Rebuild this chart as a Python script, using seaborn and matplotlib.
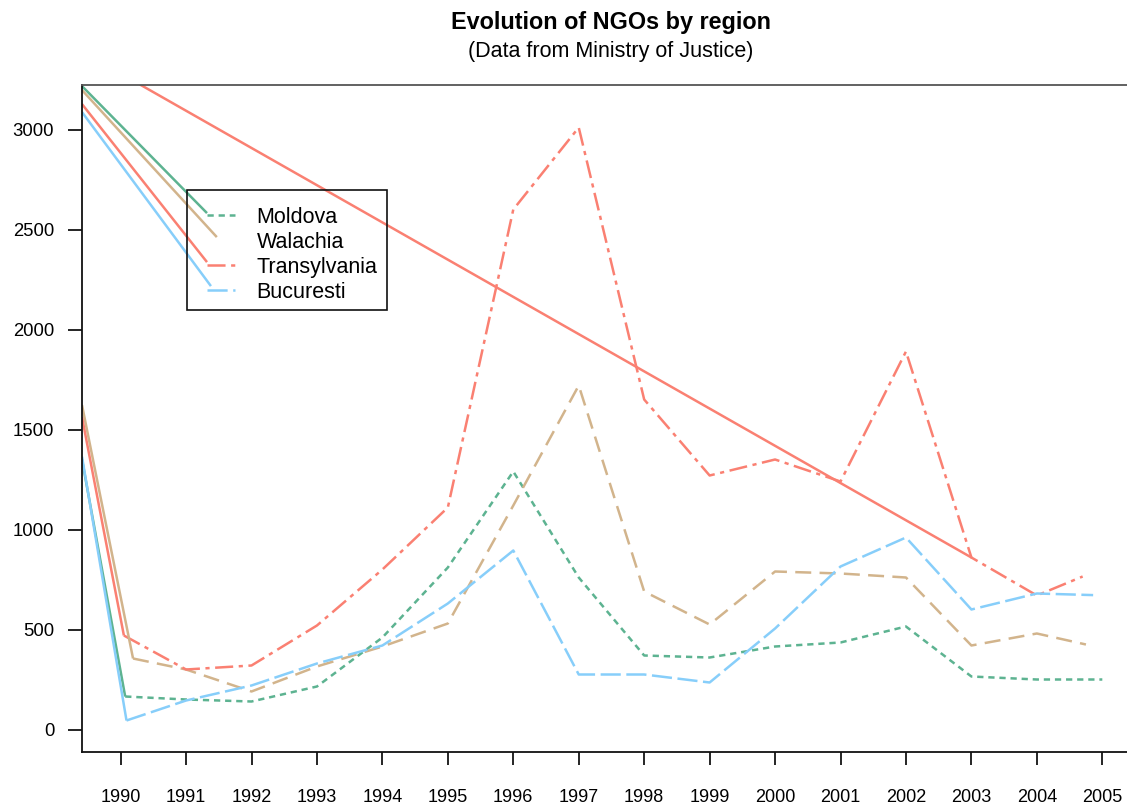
import matplotlib
matplotlib.use("Agg")
import matplotlib.pyplot as plt
import seaborn as sns
import pandas as pd
from matplotlib.lines import Line2D
from matplotlib.patches import Rectangle

# ---- data -------------------------------------------------------------
regions = ["Moldova", "Walachia", "Transylvania", "Bucuresti"]
years = list(range(1990, 2006))

moldova_x = [1990.07] + years[1:-1] + [2005.0]
moldova = [165, 150, 140, 215, 460, 810, 1290, 760, 370, 360, 415, 435, 515, 265, 250, 250]

walachia_x = [1990.19] + years[1:-1] + [2004.75]
walachia = [355, 300, 190, 315, 415, 530, 1120, 1720, 690, 525, 790, 780, 760, 420, 480, 425]

transylvania_x = [1990.05] + years[1:-1] + [2004.70]
transylvania = [470, 300, 320, 520, 800, 1110, 2600, 3010, 1650, 1270, 1350, 1240, 1890, 860, 670, 765]

bucuresti_x = [1990.09] + years[1:-1] + [2004.86]
bucuresti = [45, 145, 220, 330, 420, 630, 895, 275, 275, 235, 505, 815, 960, 600, 680, 672]

# solid leader segments: (x0, y0, x1, y1)
lower_leaders = {
    "Moldova": (1989.41, 1350, moldova_x[0], moldova[0]),
    "Walachia": (1989.41, 1622, walachia_x[0], walachia[0]),
    "Transylvania": (1989.41, 1562, transylvania_x[0], transylvania[0]),
    "Bucuresti": (1989.41, 1364, bucuresti_x[0], bucuresti[0]),
}
upper_leaders = {
    "Moldova": (1989.41, 3217, 1991.32, 2582),
    "Walachia": (1989.41, 3197, 1991.47, 2462),
    "Transylvania": (1989.41, 3127, 1991.32, 2337),
    "Bucuresti": (1989.41, 3087, 1991.38, 2217),
}
trend_line = (1990.295, 3225, 2003, 860)

y_ticks = [0, 500, 1000, 1500, 2000, 2500, 3000]

# ---- styling ----------------------------------------------------------
colors = {"Moldova": "#5DB391", "Walachia": "#D2B48C",
          "Transylvania": "#FA8072", "Bucuresti": "#87CEFA"}
dashes = {"Moldova": (4.5, 3.5), "Walachia": (11.5, 6),
          "Transylvania": (13, 4, 3, 4), "Bucuresti": (14.5, 4)}

sns.set_style("ticks")
plt.rcParams["font.family"] = ["Liberation Sans", "DejaVu Sans"]
plt.rcParams["lines.scale_dashes"] = False
plt.rcParams["text.color"] = "black"
plt.rcParams["xtick.color"] = "black"
plt.rcParams["ytick.color"] = "black"

frames = []
for name, xs, ys in [("Moldova", moldova_x, moldova),
                     ("Walachia", walachia_x, walachia),
                     ("Transylvania", transylvania_x, transylvania),
                     ("Bucuresti", bucuresti_x, bucuresti)]:
    frames.append(pd.DataFrame({"year": xs, "ngos": ys, "region": name}))
df = pd.concat(frames, ignore_index=True)

W, H = 1127, 807
fig = plt.figure(figsize=(W / 100, H / 100), dpi=100)
ax = fig.add_axes([82 / W, (H - 752) / H, (1140 - 82) / W, (752 - 85) / H])

lw = 1.8
sns.lineplot(data=df, x="year", y="ngos", hue="region", style="region",
             hue_order=regions, style_order=regions, palette=colors,
             dashes=dashes, estimator=None, sort=False, linewidth=lw,
             legend=False, ax=ax)

for name in regions:
    for seg in (lower_leaders[name], upper_leaders[name]):
        x0, y0, x1, y1 = seg
        ax.plot([x0, x1], [y0, y1], color=colors[name], lw=lw,
                solid_capstyle="butt")
x0, y0, x1, y1 = trend_line
ax.plot([x0, x1], [y0, y1], color=colors["Transylvania"], lw=lw)

ax.set_xlim(1989.41, 2005.576)
ax.set_ylim(-112.5, 3222.5)
ax.set_xticks(years)
ax.set_yticks(y_ticks)
ax.set_xlabel("")
ax.set_ylabel("")
ax.tick_params(axis="x", length=9.5, width=1.2, pad=17, labelsize=13)
ax.tick_params(axis="y", length=10, width=1.2, pad=10, labelsize=13.3)
for side in ("left", "bottom"):
    ax.spines[side].set_color("#111111")
    ax.spines[side].set_linewidth(1.3)
ax.spines["top"].set_color("#555555")
ax.spines["top"].set_linewidth(1.3)
ax.spines["right"].set_visible(False)

# legend: entries placed inside a separately drawn box
handles = []
for name in regions:
    if name == "Walachia":
        handles.append(Line2D([], [], linestyle="none"))
    else:
        handles.append(Line2D([], [], color=colors[name], lw=lw,
                              dashes=dashes[name]))
leg = ax.legend(handles, regions, loc="upper left",
                bbox_to_anchor=(207 / W, 1 - 207 / H),
                bbox_transform=fig.transFigure, fontsize=15.5,
                frameon=False, borderaxespad=0, borderpad=0,
                handlelength=1.3, handletextpad=1.0, labelspacing=0.18)
fig.patches.append(Rectangle((187 / W, 1 - 310 / H), 200 / W, 120 / H,
                             transform=fig.transFigure, fill=False,
                             edgecolor="#111111", linewidth=1.2, zorder=5))

fig.text(611 / W, 1 - 23 / H, "Evolution of NGOs by region", ha="center",
         va="center", fontsize=16.8, fontweight="bold")
fig.text(611 / W, 1 - 52 / H, "(Data from Ministry of Justice)", ha="center",
         va="center", fontsize=15.5)

fig.savefig("out.png", dpi=100)
